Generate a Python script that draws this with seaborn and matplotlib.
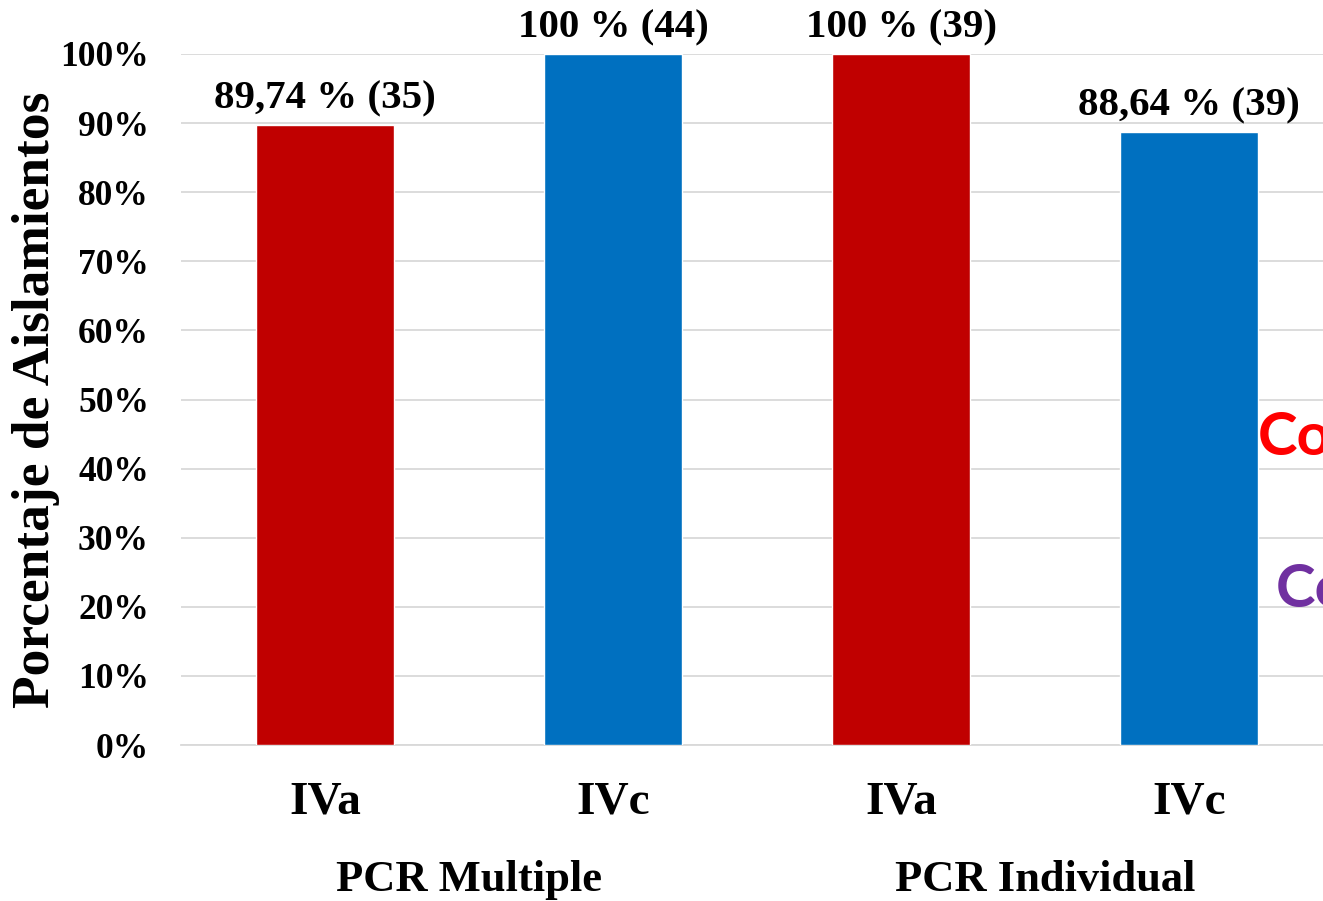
import matplotlib
matplotlib.use("Agg")
import matplotlib.pyplot as plt
import seaborn as sns
import pandas as pd

# Data
groups = ["PCR Multiple", "PCR Multiple", "PCR Individual", "PCR Individual"]
subtypes = ["IVa", "IVc", "IVa", "IVc"]
percent = [89.74, 100.0, 100.0, 88.64]
counts = [35, 44, 39, 39]
bar_colors = ["#C00000", "#0070C0", "#C00000", "#0070C0"]
ytick_vals = [0, 10, 20, 30, 40, 50, 60, 70, 80, 90, 100]

sns.set_theme(style="white")
plt.rcParams["font.family"] = ["Liberation Serif", "DejaVu Serif"]
plt.rcParams["font.weight"] = "bold"
plt.rcParams["text.color"] = "black"
plt.rcParams["axes.labelcolor"] = "black"
plt.rcParams["xtick.color"] = "black"
plt.rcParams["ytick.color"] = "black"

df = pd.DataFrame({
    "key": [f"{g}|{s}" for g, s in zip(groups, subtypes)],
    "group": groups,
    "subtype": subtypes,
    "percent": percent,
})

W, H = 1323, 901
fig = plt.figure(figsize=(W / 100, H / 100), dpi=100)
ax_left, ax_right = 181, 1333
ax_bottom, ax_top = 745, 54
ax = fig.add_axes([ax_left / W, (H - ax_bottom) / H,
                   (ax_right - ax_left) / W, (ax_bottom - ax_top) / H])

sns.barplot(data=df, x="key", y="percent", hue="key",
            palette=bar_colors, width=0.477, legend=False,
            saturation=1, ax=ax, zorder=3)

ax.set_xlim(-0.5, 3.5)
ax.set_ylim(0, 100)
ax.set_yticks(ytick_vals)
ax.set_yticklabels([f"{v}%" for v in ytick_vals], fontsize=25.5, fontweight="bold")
ax.yaxis.grid(True, color="#D9D9D9", linewidth=1.3, zorder=0)
ax.set_axisbelow(True)
for s in ["top", "right", "left"]:
    ax.spines[s].set_visible(False)
ax.spines["bottom"].set_color("#D9D9D9")
ax.spines["bottom"].set_linewidth(1.3)
ax.tick_params(axis="y", length=0, pad=23)
ax.tick_params(axis="x", length=0, pad=26)
ax.set_xticks(range(len(subtypes)))
ax.set_xticklabels(subtypes, fontsize=34, fontweight="bold")
ax.set_xlabel("")
ax.set_ylabel("Porcentaje de Aislamientos", fontsize=38.5, fontweight="bold",
              labelpad=0)

# Value labels above bars
for i, (p, c) in enumerate(zip(percent, counts)):
    txt = f"{p:.2f}".replace(".", ",") if p != 100 else "100"
    ax.annotate(f"{txt} % ({c})", xy=(i, p), xytext=(0, 12),
                textcoords="offset points", ha="center", va="baseline",
                fontsize=29.5, fontweight="bold", color="black",
                annotation_clip=False)

# Group labels under the subtype labels
group_names = ["PCR Multiple", "PCR Individual"]
for gi, gname in enumerate(group_names):
    xc = 2 * gi + 0.5
    ax.annotate(gname, xy=(xc, 0), xytext=(0, -105), textcoords="offset points",
                ha="center", va="baseline", fontsize=32, fontweight="bold",
                annotation_clip=False)

# Side notes partly running off the right edge
fig.text(1258 / W, 1 - 455 / H, "Con", color="#FF0000", fontsize=43,
         fontweight="bold", family=["Lato", "DejaVu Sans"], ha="left", va="baseline")
fig.text(1276 / W, 1 - 607 / H, "Con", color="#7030A0", fontsize=43,
         fontweight="bold", family=["Lato", "DejaVu Sans"], ha="left", va="baseline")

fig.savefig("out.png", dpi=100, facecolor="white")
